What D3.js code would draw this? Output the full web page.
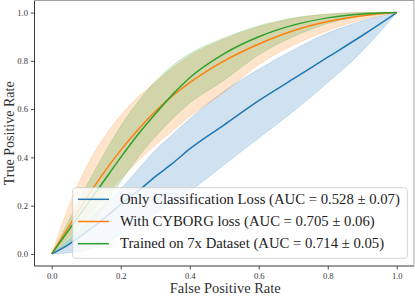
<!DOCTYPE html>
<html><head><meta charset="utf-8">
<script src="https://cdn.jsdelivr.net/npm/d3@7"></script>
<style>
html,body{margin:0;padding:0;background:#fff;}
svg{display:block;}
text{font-family:"Liberation Serif","Times New Roman",serif;}
</style></head>
<body>
<svg id="chart" width="415" height="297"></svg>
<script>
const fprGrid = [0,0.05,0.1,0.15,0.2,0.25,0.3,0.35,0.4,0.5,0.6,0.7,0.8,0.9,1];
const blueMean  = [0,0.04,0.09,0.145,0.205,0.26,0.32,0.375,0.435,0.535,0.635,0.725,0.815,0.905,1];
const blueUpper = [0,0.06,0.13,0.20,0.27,0.35,0.43,0.495,0.56,0.675,0.765,0.845,0.915,0.965,1];
const blueLower = [0,0.005,0.015,0.04,0.08,0.12,0.165,0.21,0.26,0.37,0.48,0.59,0.71,0.84,1];
const orangeMean  = [0,0.115,0.23,0.335,0.43,0.515,0.59,0.655,0.71,0.80,0.87,0.925,0.963,0.987,1];
const orangeUpper = [0,0.2,0.36,0.48,0.575,0.65,0.71,0.77,0.82,0.89,0.94,0.975,0.993,1,1];
const orangeLower = [0,0.07,0.15,0.23,0.31,0.385,0.45,0.51,0.57,0.67,0.785,0.865,0.925,0.97,1];
const greenMean  = [0,0.10,0.20,0.30,0.40,0.495,0.58,0.66,0.73,0.83,0.90,0.948,0.978,0.994,1];
const greenUpper = [0,0.14,0.28,0.41,0.53,0.63,0.715,0.78,0.83,0.895,0.945,0.978,0.994,1,1];
const greenLower = [0,0.04,0.10,0.19,0.30,0.40,0.485,0.56,0.625,0.72,0.825,0.90,0.955,0.985,1];
const seriesNames = ["Only Classification Loss (AUC = 0.528 \u00b1 0.07)",
                     "With CYBORG loss (AUC = 0.705 \u00b1 0.06)",
                     "Trained on 7x Dataset (AUC = 0.714 \u00b1 0.05)"];
const seriesColors = ["#1f77b4","#ff7f0e","#2ca02c"];
const tickValues = [0,0.2,0.4,0.6,0.8,1.0];
const tickLabels = ["0.0","0.2","0.4","0.6","0.8","1.0"];
const xLabel = "False Positive Rate";
const yLabel = "True Positive Rate";

const svg = d3.select("#chart");
const L = 34.5, R = 414, T = 0.5, B = 266;
const x = d3.scaleLinear().domain([-0.05,1.05]).range([L,R]);
const y = d3.scaleLinear().domain([-0.05,1.05]).range([B,T]);

const series = [
  {mean: blueMean, up: blueUpper, lo: blueLower},
  {mean: orangeMean, up: orangeUpper, lo: orangeLower},
  {mean: greenMean, up: greenUpper, lo: greenLower}
];
const curve = d3.curveMonotoneX;
const g = svg.append("g");
series.forEach((s,i)=>{
  const pts = fprGrid.map((f,k)=>({f, m:s.mean[k], u:s.up[k], l:s.lo[k]}));
  g.append("path").attr("d", d3.area().x(d=>x(d.f)).y0(d=>y(d.l)).y1(d=>y(d.u)).curve(curve)(pts))
    .attr("fill", seriesColors[i]).attr("fill-opacity",0.21).attr("stroke", seriesColors[i]).attr("stroke-opacity",0.22).attr("stroke-width",0.8);
});
series.forEach((s,i)=>{
  const pts = fprGrid.map((f,k)=>({f, m:s.mean[k]}));
  g.append("path").attr("d", d3.line().x(d=>x(d.f)).y(d=>y(d.m)).curve(curve)(pts))
    .attr("fill","none").attr("stroke", seriesColors[i]).attr("stroke-width",1.5);
});

// axes
const xAxis = d3.axisBottom(x).tickValues(tickValues).tickFormat((d,i)=>tickLabels[i]).tickSize(3.5).tickPadding(3);
const yAxis = d3.axisLeft(y).tickValues(tickValues).tickFormat((d,i)=>tickLabels[i]).tickSize(3.5).tickPadding(3);
const xa = svg.append("g").attr("transform",`translate(0,${B})`).call(xAxis);
const ya = svg.append("g").attr("transform",`translate(${L},0)`).call(yAxis);
[xa,ya].forEach(a=>{
  a.select(".domain").remove();
  a.selectAll(".tick line").attr("stroke","#222").attr("stroke-width",0.8);
  a.selectAll(".tick text").attr("fill","#333").style("font-size","8.6px").style("font-family","'Liberation Serif',serif");
});
// spines
svg.append("line").attr("x1",L).attr("x2",L).attr("y1",T).attr("y2",B).attr("stroke","#222").attr("stroke-width",0.9);
svg.append("line").attr("x1",L).attr("x2",R).attr("y1",B).attr("y2",B).attr("stroke","#222").attr("stroke-width",0.9);
svg.append("line").attr("x1",L).attr("x2",R).attr("y1",T).attr("y2",T).attr("stroke","#999").attr("stroke-width",0.9);
svg.append("line").attr("x1",R).attr("x2",R).attr("y1",T).attr("y2",B).attr("stroke","#999").attr("stroke-width",0.9);

// fit text to measured widths
function fit(sel, target, base){
  sel.style("font-size", base+"px");
  const w = sel.node().getComputedTextLength();
  if (w>0) sel.style("font-size", (base*target/w).toFixed(2)+"px");
}
// axis labels
const xl = svg.append("text").attr("x",(L+R)/2 + 1).attr("y",292.5).attr("text-anchor","middle").attr("fill","#333").text(xLabel);
fit(xl, 111, 13);
const yl = svg.append("text").attr("transform",`translate(13.5,${(T+B)/2}) rotate(-90)`).attr("text-anchor","middle").attr("fill","#333").text(yLabel);
fit(yl, 104, 13);

// legend
const lg = svg.append("g");
lg.append("rect").attr("x",72.7).attr("y",187.7).attr("width",334.6).attr("height",70.6).attr("rx",3)
  .attr("fill","#fff").attr("fill-opacity",0.8).attr("stroke","#d0d0d0").attr("stroke-width",0.9);
const texts = [];
seriesNames.forEach((n,i)=>{
  const yy = 199.3 + i*22.2;
  lg.append("line").attr("x1",78).attr("x2",109).attr("y1",yy).attr("y2",yy).attr("stroke",seriesColors[i]).attr("stroke-width",1.5);
  texts.push(lg.append("text").attr("x",120).attr("y",yy+4.6).attr("fill","#222").text(n));
});
fit(texts[0], 280, 13);
const fs = texts[0].style("font-size");
texts.forEach(t=>t.style("font-size", fs));
</script>
</body></html>
